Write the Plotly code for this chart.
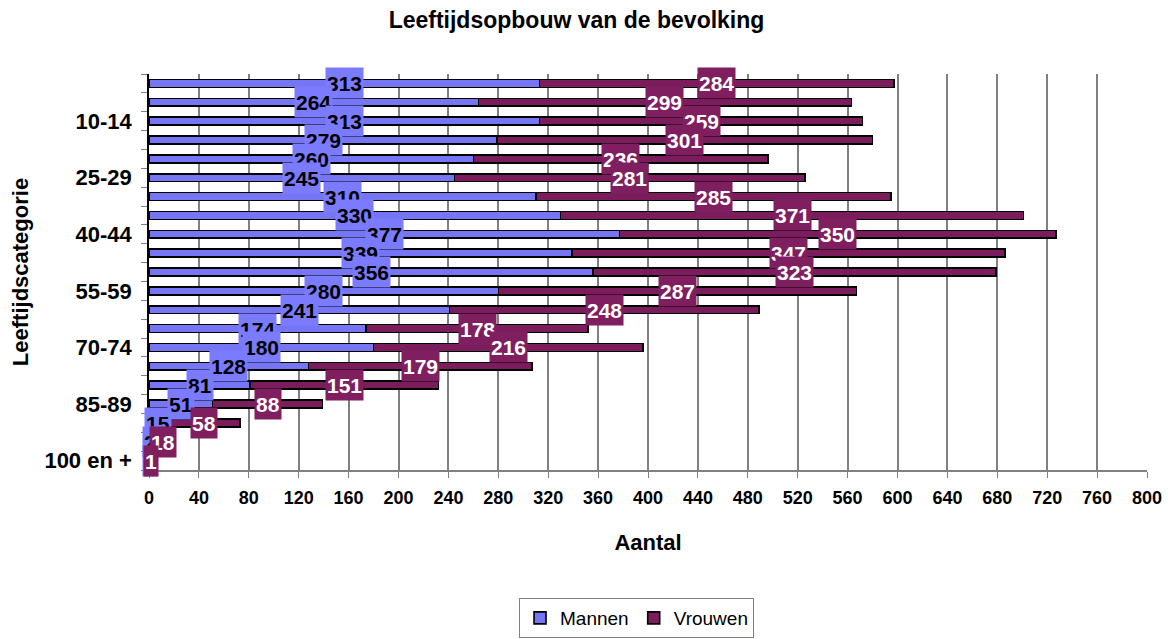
import plotly.graph_objects as go

categories = ["0-4", "5-9", "10-14", "15-19", "20-24", "25-29", "30-34", "35-39",
              "40-44", "45-49", "50-54", "55-59", "60-64", "65-69", "70-74", "75-79",
              "80-84", "85-89", "90-94", "95-99", "100 en +"]
mannen = [313, 264, 313, 279, 260, 245, 310, 330, 377, 339, 356, 280, 241, 174, 180, 128, 81, 51, 15, 2, 1]
vrouwen = [284, 299, 259, 301, 236, 281, 285, 371, 350, 347, 323, 287, 248, 178, 216, 179, 151, 88, 58, 18, 1]
shown_ticks = ["10-14", "25-29", "40-44", "55-59", "70-74", "85-89", "100 en +"]

BLUE = "#7676F4"
BLUE_LBL = "#7B7BFF"
MAROON = "#7B1D5C"
MAROON_LBL = "#7F1F5F"
FONT = "Liberation Sans, Arial, sans-serif"

# page body has an 8px default margin; the figure is sized to fit the window
W, H = 1165, 631

fig = go.Figure()
fig.add_trace(go.Bar(name="Mannen", y=categories, x=mannen, orientation="h",
                     marker=dict(color=BLUE, line=dict(color="black", width=1.6)),
                     width=0.42))
fig.add_trace(go.Bar(name="Vrouwen", y=categories, x=vrouwen, orientation="h",
                     marker=dict(color=MAROON, line=dict(color="black", width=1.6)),
                     width=0.42))

annotations = []
for c, m in zip(categories, mannen):
    annotations.append(dict(x=m / 2, y=c, xref="x", yref="y", text=str(m), showarrow=False,
                            font=dict(family=FONT, size=21, color="black", weight="bold"),
                            bgcolor=BLUE_LBL, borderpad=1, height=28))
for c, m, v in zip(categories, mannen, vrouwen):
    annotations.append(dict(x=m + v / 2, y=c, xref="x", yref="y", text=str(v), showarrow=False,
                            font=dict(family=FONT, size=21, color="white", weight="bold"),
                            bgcolor=MAROON_LBL, borderpad=1, height=28))

fig.update_layout(
    barmode="stack",
    width=W, height=H,
    margin=dict(l=141, r=26, t=66, b=169, autoexpand=False),
    paper_bgcolor="white", plot_bgcolor="white",
    title=dict(text="<b>Leeftijdsopbouw van de bevolking</b>", x=568.5 / W, xanchor="center",
               y=1 - 12 / H, yref="container", yanchor="middle",
               font=dict(family=FONT, size=23, color="black")),
    annotations=annotations,
    showlegend=True,
    legend=dict(orientation="h", x=0.4885, xanchor="center", xref="paper",
                y=1 - 590 / H, yref="container", yanchor="top",
                bordercolor="#808080", borderwidth=1,
                font=dict(family=FONT, size=19, color="black"), traceorder="normal"),
)
fig.update_xaxes(range=[0, 800], dtick=40, tick0=0, automargin=False,
                 showgrid=True, gridcolor="#808080", gridwidth=1.5,
                 ticks="outside", ticklen=6, tickcolor="#808080", ticklabelstandoff=5,
                 showline=True, linecolor="#808080", linewidth=1.5,
                 tickfont=dict(family=FONT, size=18, color="black", weight="bold"),
                 title=dict(text="<b>Aantal</b>", standoff=27,
                            font=dict(family=FONT, size=22, color="black")),
                 zeroline=False)
fig.update_yaxes(type="category", categoryorder="array", categoryarray=categories,
                 range=[len(categories) - 0.5, -0.5], automargin=False,
                 tickvals=categories,
                 ticktext=[c if c in shown_ticks else "" for c in categories],
                 tickson="boundaries", ticks="outside", ticklen=6, tickcolor="#808080",
                 ticklabelstandoff=11,
                 showgrid=False,
                 showline=True, linecolor="black", linewidth=1.5,
                 tickfont=dict(family=FONT, size=22, color="black", weight="bold"),
                 title=dict(text="<b>Leeftijdscategorie</b>", standoff=14,
                            font=dict(family=FONT, size=22, color="black")))

fig.write_html("out.html")
